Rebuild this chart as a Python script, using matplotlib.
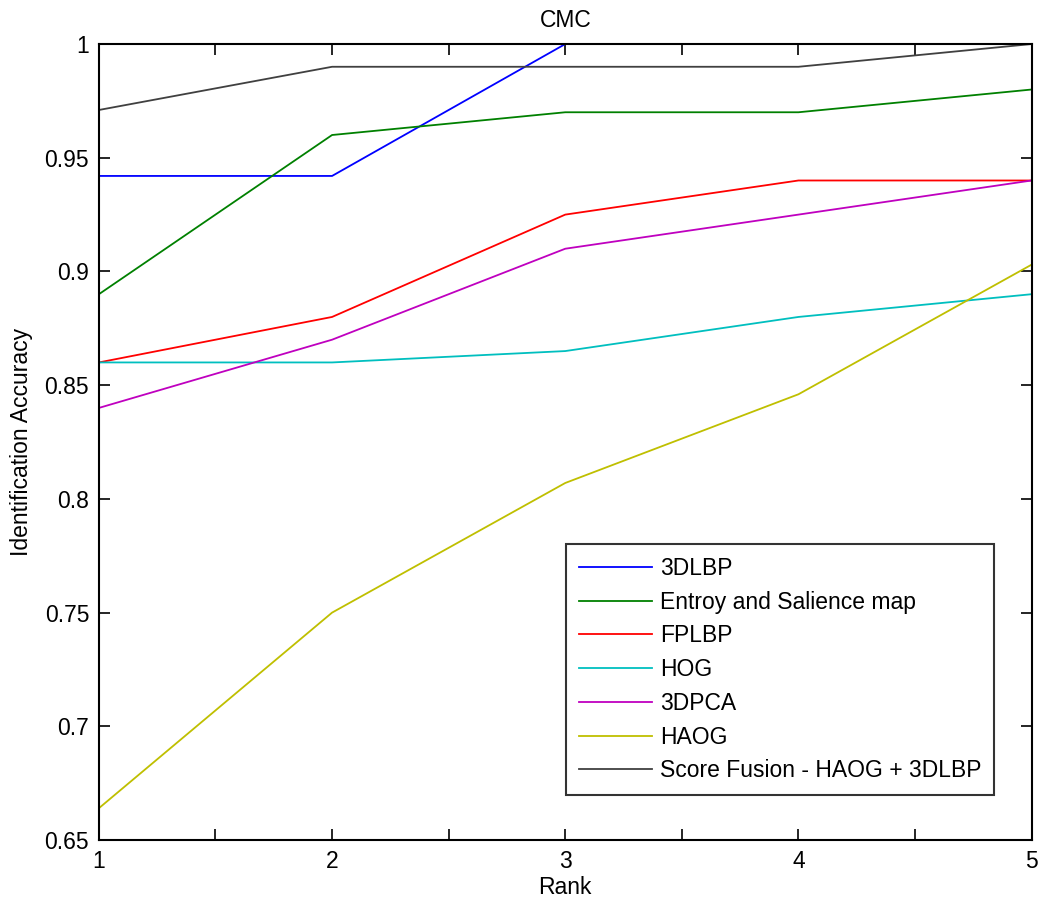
import numpy as np
import matplotlib.pyplot as plt

plt.rcParams['font.family'] = ['Liberation Sans', 'DejaVu Sans']

ranks = [1, 2, 3, 4, 5]
lbp3d = [0.942, 0.942, 1.0, 1.0, 1.0]
entropy_saliency = [0.89, 0.96, 0.97, 0.97, 0.98]
fplbp = [0.86, 0.88, 0.925, 0.94, 0.94]
hog = [0.86, 0.86, 0.865, 0.88, 0.89]
pca3d = [0.84, 0.87, 0.91, 0.925, 0.94]
haog = [0.664, 0.75, 0.807, 0.846, 0.903]
fusion = [0.971, 0.99, 0.99, 0.99, 1.0]

series = [
    ('3DLBP', lbp3d, (0, 0, 1)),
    ('Entroy and Salience map', entropy_saliency, (0, 0.5, 0)),
    ('FPLBP', fplbp, (1, 0, 0)),
    ('HOG', hog, (0, 0.75, 0.75)),
    ('3DPCA', pca3d, (0.75, 0, 0.75)),
    ('HAOG', haog, (0.75, 0.75, 0)),
    ('Score Fusion - HAOG + 3DLBP', fusion, (0.25, 0.25, 0.25)),
]

fs = 16.5

fig = plt.figure(figsize=(10.41, 9.06), dpi=100)
ax = fig.add_axes([0.095, 0.0728, 0.896, 0.8786])

for name, vals, col in series:
    ax.plot(ranks, vals, color=col, lw=1.3, label=name)

ax.set_xlim(1, 5)
ax.set_ylim(0.65, 1.0)
xt = np.arange(1, 5.01, 0.5)
ax.set_xticks(xt)
ax.set_xticklabels([str(int(t)) if t == int(t) else '' for t in xt])
yt = np.arange(0.65, 1.001, 0.05)
ax.set_yticks(yt)
ax.set_yticklabels(['%g' % round(t, 2) for t in yt])
ax.tick_params(direction='in', top=True, right=True, length=8, width=1.2,
               labelsize=fs, pad=7)
for s in ax.spines.values():
    s.set_linewidth(1.5)

ax.set_title('CMC', fontsize=fs, pad=12)
ax.set_xlabel('Rank', fontsize=fs, labelpad=2)
ax.set_ylabel('Identification Accuracy', fontsize=fs, labelpad=8)

leg = ax.legend(loc='lower right', bbox_to_anchor=(0.96, 0.0565), fontsize=fs,
                frameon=True, fancybox=False, edgecolor='black',
                handlelength=3.2, handletextpad=0.35, labelspacing=0.47,
                borderpad=0.55, borderaxespad=0)
leg.get_frame().set_linewidth(1.5)

fig.savefig('out.png', dpi=100)
